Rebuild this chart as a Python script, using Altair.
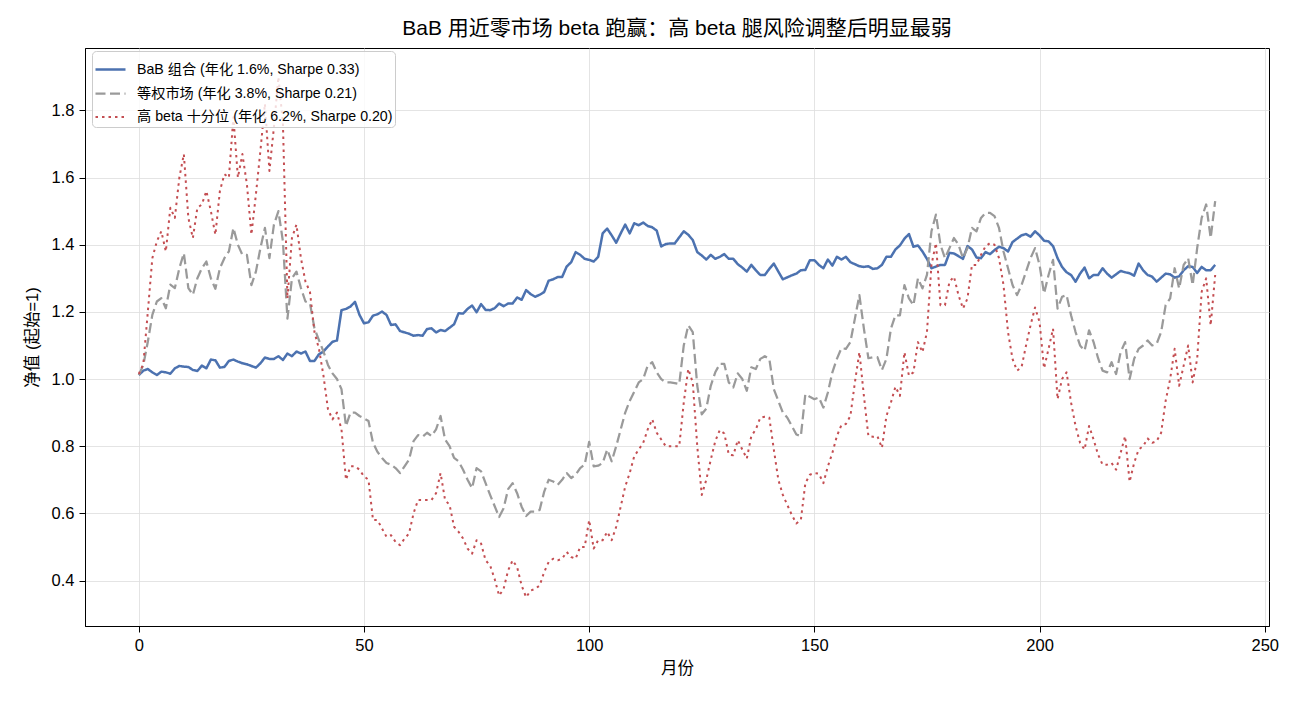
import altair as alt
import pandas as pd

# Monthly net asset value paths (start = 1) over 240 months
months = list(range(240))

bab = [
    1.012, 1.025, 1.03, 1.02, 1.012, 1.022, 1.02, 1.016, 1.032, 1.039, 1.037, 1.036,
    1.027, 1.024, 1.04, 1.032, 1.058, 1.056, 1.034, 1.036, 1.054, 1.058, 1.052, 1.047,
    1.044, 1.039, 1.034, 1.047, 1.064, 1.06, 1.06, 1.068, 1.057, 1.076, 1.068, 1.082,
    1.076, 1.082, 1.054, 1.054, 1.074, 1.082, 1.097, 1.111, 1.115, 1.205, 1.209, 1.216, 1.23,
    1.191, 1.166, 1.169, 1.189, 1.193, 1.201, 1.191, 1.161, 1.163, 1.143, 1.139, 1.135,
    1.129, 1.131, 1.129, 1.149, 1.151, 1.139, 1.146, 1.143, 1.153, 1.163, 1.196, 1.195,
    1.209, 1.219, 1.199, 1.223, 1.206, 1.205, 1.211, 1.225, 1.217, 1.225, 1.225, 1.243,
    1.236, 1.265, 1.253, 1.245, 1.251, 1.259, 1.293, 1.297, 1.304, 1.304, 1.335, 1.348,
    1.378, 1.37, 1.358, 1.355, 1.35, 1.364, 1.434, 1.448, 1.428, 1.406, 1.434, 1.46,
    1.434, 1.464, 1.458, 1.466, 1.456, 1.452, 1.442, 1.395, 1.402, 1.404, 1.404, 1.422, 1.44,
    1.43, 1.414, 1.378, 1.368, 1.356, 1.37, 1.358, 1.364, 1.372, 1.358, 1.358, 1.342,
    1.332, 1.32, 1.34, 1.324, 1.31, 1.31, 1.328, 1.344, 1.32, 1.297, 1.303, 1.309,
    1.314, 1.324, 1.325, 1.354, 1.354, 1.34, 1.33, 1.356, 1.338, 1.364, 1.356, 1.364,
    1.348, 1.342, 1.336, 1.334, 1.336, 1.328, 1.33, 1.34, 1.364, 1.364, 1.386, 1.398, 1.418,
    1.432, 1.394, 1.398, 1.38, 1.358, 1.33, 1.335, 1.34, 1.34, 1.376, 1.374, 1.366,
    1.358, 1.396, 1.386, 1.362, 1.36, 1.378, 1.372, 1.384, 1.394, 1.39, 1.38, 1.408,
    1.418, 1.428, 1.432, 1.424, 1.44, 1.428, 1.412, 1.41, 1.396, 1.36, 1.334, 1.318,
    1.31, 1.29, 1.314, 1.332, 1.3, 1.31, 1.31, 1.33, 1.314, 1.302, 1.312, 1.322, 1.318,
    1.315, 1.308, 1.344, 1.324, 1.31, 1.305, 1.29, 1.302, 1.314, 1.312, 1.302, 1.306,
    1.324, 1.336, 1.334, 1.316, 1.334, 1.324, 1.324, 1.34,
]

market = [
    1.012, 1.042, 1.111, 1.191, 1.231, 1.241, 1.211, 1.281, 1.271, 1.33, 1.375, 1.271,
    1.251, 1.30, 1.33, 1.35, 1.30, 1.269, 1.33, 1.36, 1.38, 1.45, 1.40, 1.37,
    1.37, 1.28, 1.32, 1.39, 1.45, 1.36, 1.46, 1.50, 1.41, 1.18, 1.30, 1.32,
    1.271, 1.231, 1.226, 1.151, 1.116, 1.082, 1.042, 1.017, 1.0, 0.97, 0.86, 0.90, 0.90,
    0.89, 0.883, 0.875, 0.81, 0.783, 0.765, 0.75, 0.745, 0.735, 0.72, 0.74, 0.76,
    0.815, 0.833, 0.828, 0.84, 0.83, 0.85, 0.89, 0.82, 0.80, 0.765, 0.755, 0.73,
    0.70, 0.675, 0.735, 0.725, 0.69, 0.655, 0.622, 0.589, 0.615, 0.672, 0.69, 0.66,
    0.62, 0.592, 0.605, 0.605, 0.61, 0.664, 0.70, 0.695, 0.685, 0.70, 0.72, 0.705,
    0.715, 0.735, 0.745, 0.813, 0.74, 0.742, 0.75, 0.79, 0.755, 0.80, 0.85, 0.90,
    0.935, 0.962, 0.99, 1.0, 1.04, 1.05, 1.02, 1.0, 0.99, 0.99, 0.988, 0.985, 1.10,
    1.16, 1.14, 0.98, 0.895, 0.912, 0.98, 1.02, 1.045, 1.045, 0.99, 0.975, 1.017,
    1.0, 0.965, 1.035, 1.03, 1.06, 1.068, 1.06, 0.97, 0.935, 0.90, 0.885, 0.86,
    0.835, 0.83, 0.955, 0.947, 0.94, 0.945, 0.915, 0.96, 1.02, 1.06, 1.092, 1.09,
    1.11, 1.18, 1.25, 1.15, 1.062, 1.065, 1.065, 1.027, 1.06, 1.15, 1.19, 1.19, 1.28,
    1.24, 1.22, 1.30, 1.27, 1.31, 1.44, 1.49, 1.40, 1.36, 1.39, 1.42, 1.40,
    1.36, 1.39, 1.45, 1.44, 1.48, 1.495, 1.495, 1.485, 1.45, 1.38, 1.33, 1.28,
    1.25, 1.28, 1.32, 1.36, 1.39, 1.34, 1.255, 1.31, 1.355, 1.21, 1.245, 1.25,
    1.19, 1.14, 1.10, 1.085, 1.145, 1.11, 1.062, 1.025, 1.02, 1.05, 1.015, 1.08, 1.11,
    1.0, 1.06, 1.09, 1.10, 1.115, 1.10, 1.105, 1.14, 1.22, 1.24, 1.33, 1.27,
    1.34, 1.36, 1.28, 1.39, 1.48, 1.52, 1.42, 1.53,
]

high_beta = [
    1.015, 1.045, 1.20, 1.36, 1.41, 1.44, 1.38, 1.51, 1.48, 1.60, 1.67, 1.48,
    1.42, 1.51, 1.52, 1.56, 1.50, 1.43, 1.56, 1.61, 1.60, 1.78, 1.60, 1.67,
    1.58, 1.43, 1.55, 1.68, 1.82, 1.62, 1.75, 1.90, 1.76, 1.24, 1.42, 1.46,
    1.36, 1.29, 1.26, 1.14, 1.09, 1.01, 0.91, 0.88, 0.90, 0.85, 0.70, 0.74, 0.74,
    0.73, 0.71, 0.70, 0.58, 0.58, 0.555, 0.53, 0.535, 0.515, 0.505, 0.525, 0.54,
    0.60, 0.64, 0.64, 0.64, 0.64, 0.66, 0.72, 0.64, 0.625, 0.56, 0.545, 0.525,
    0.495, 0.48, 0.52, 0.51, 0.46, 0.445, 0.405, 0.355, 0.375, 0.43, 0.46, 0.44,
    0.385, 0.35, 0.37, 0.375, 0.385, 0.425, 0.455, 0.465, 0.46, 0.465, 0.485, 0.47,
    0.465, 0.50, 0.50, 0.58, 0.495, 0.52, 0.52, 0.545, 0.52, 0.56, 0.62, 0.68,
    0.72, 0.77, 0.79, 0.81, 0.85, 0.88, 0.84, 0.82, 0.80, 0.80, 0.80, 0.80, 0.93,
    1.03, 0.99, 0.80, 0.655, 0.70, 0.76, 0.815, 0.848, 0.838, 0.775, 0.773, 0.818,
    0.79, 0.763, 0.83, 0.85, 0.885, 0.888, 0.885, 0.79, 0.70, 0.655, 0.625, 0.595,
    0.57, 0.58, 0.69, 0.715, 0.72, 0.718, 0.69, 0.74, 0.78, 0.83, 0.863, 0.866,
    0.89, 0.99, 1.08, 0.95, 0.83, 0.828, 0.83, 0.795, 0.89, 0.93, 0.977, 0.95, 1.08,
    1.01, 1.02, 1.11, 1.08, 1.14, 1.34, 1.405, 1.22, 1.22, 1.29, 1.305, 1.25,
    1.21, 1.24, 1.34, 1.34, 1.37, 1.395, 1.405, 1.40, 1.36, 1.28, 1.14, 1.06,
    1.025, 1.035, 1.10, 1.16, 1.213, 1.17, 1.032, 1.09, 1.15, 0.94, 1.00, 1.02,
    0.93, 0.86, 0.81, 0.79, 0.86, 0.82, 0.775, 0.745, 0.745, 0.75, 0.73, 0.78, 0.83,
    0.694, 0.75, 0.79, 0.80, 0.823, 0.81, 0.815, 0.84, 0.935, 1.00, 1.09, 0.98,
    1.04, 1.10, 0.99, 1.06, 1.26, 1.30, 1.16, 1.31,
]

series_names = [
    "BaB 组合 (年化 1.6%, Sharpe 0.33)",
    "等权市场 (年化 3.8%, Sharpe 0.21)",
    "高 beta 十分位 (年化 6.2%, Sharpe 0.20)",
]
line_colors = ["#4c72b0", "#9a9a9a", "#c44e52"]
line_dashes = [[1, 0], [10, 4.5], [2.5, 4]]
line_widths = [2.5, 2.0, 2.2]

x_ticks = [0, 50, 100, 150, 200, 250]
y_ticks = [0.4, 0.6, 0.8, 1.0, 1.2, 1.4, 1.6, 1.8]

rows = []
for name, values in zip(series_names, [bab, market, high_beta]):
    for m, v in zip(months, values):
        rows.append({"month": m, "nav": v, "series": name})
df = pd.DataFrame(rows)

FONT = "Liberation Sans, Noto Sans CJK SC, sans-serif"

chart = (
    alt.Chart(df)
    .mark_line(strokeCap="butt", strokeJoin="round", clip=True)
    .encode(
        x=alt.X(
            "month:Q",
            scale=alt.Scale(domain=[-11.95, 250.95], nice=False, zero=False),
            axis=alt.Axis(values=x_ticks, title="月份", format="d"),
        ),
        y=alt.Y(
            "nav:Q",
            scale=alt.Scale(domain=[0.2645, 1.986], nice=False, zero=False),
            axis=alt.Axis(values=y_ticks, title="净值 (起始=1)", format=".1f"),
        ),
        color=alt.Color(
            "series:N",
            scale=alt.Scale(domain=series_names, range=line_colors),
            legend=alt.Legend(title=None),
        ),
        strokeDash=alt.StrokeDash(
            "series:N",
            scale=alt.Scale(domain=series_names, range=line_dashes),
            legend=alt.Legend(title=None),
        ),
        strokeWidth=alt.StrokeWidth(
            "series:N",
            scale=alt.Scale(domain=series_names, range=line_widths),
            legend=None,
        ),
    )
    .properties(
        width=1184,
        height=578,
        autosize=alt.AutoSizeParams(type="none"),
        padding={"left": 85, "top": 48, "right": 31, "bottom": 76},
        title=alt.Title(
            "BaB 用近零市场 beta 跑赢：高 beta 腿风险调整后明显最弱",
            font=FONT,
            fontSize=21,
            fontWeight="normal",
            color="#000000",
            anchor="middle",
            offset=9,
        ),
    )
    .configure_view(stroke="#000000", strokeWidth=1)
    .configure_axis(
        domainColor="#000000",
        domainWidth=1,
        tickColor="#000000",
        tickSize=6,
        tickWidth=1,
        labelFont=FONT,
        labelFontSize=16.5,
        labelColor="#000000",
        labelPadding=5,
        titleFont=FONT,
        titleFontSize=16.5,
        titleFontWeight="normal",
        titleColor="#000000",
        gridColor="#dddddd",
        gridWidth=0.8,
    )
    .configure_axisX(titlePadding=7)
    .configure_axisY(titlePadding=11)
    .configure_legend(
        orient="none",
        legendX=7,
        legendY=3,
        fillColor="rgba(255,255,255,0.8)",
        strokeColor="#cccccc",
        cornerRadius=4,
        padding=2,
        rowPadding=-1,
        labelFont=FONT,
        labelFontSize=14.2,
        labelColor="#000000",
        labelOffset=10,
        labelLimit=600,
        symbolType="stroke",
        symbolSize=900,
        symbolStrokeWidth=2.2,
    )
)

chart.save("out.html", embed_options={"renderer": "svg", "actions": False})
